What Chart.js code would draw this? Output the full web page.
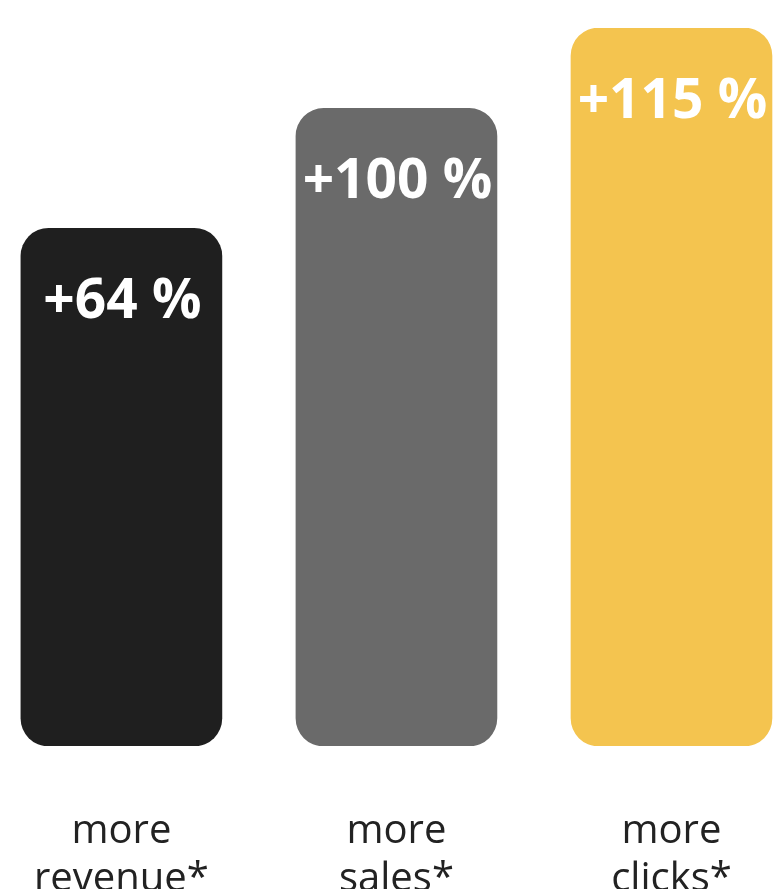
<!DOCTYPE html>
<html lang="en">
<head>
    <meta charset="UTF-8">
    <title>Growth</title>
    <script src="https://cdn.jsdelivr.net/npm/chart.js"></script>
    <style>
        html, body { margin: 0; padding: 0; background: #fff; overflow: hidden; }
        /* the category slots are wider than the page, so the chart runs past both edges */
        #wrap { position: relative; left: -20px; width: 829px; height: 958px; }
    </style>
</head>
<body>
    <div id="wrap"><canvas id="growth-chart"></canvas></div>

    <script>
        const categories = [['more', 'revenue*'], ['more', 'sales*'], ['more', 'clicks*']];
        // percentage shown on each bar
        const increases = [64, 100, 115];
        // bar length as drawn (relative units, tallest = 100)
        const barLengths = [72.1, 88.8, 100];
        const barColors = ['#1f1f1f', '#6a6a6a', '#f4c44f'];

        // white value text near the top of each bar
        const valueLabels = {
            id: 'valueLabels',
            afterDatasetsDraw(chart) {
                const ctx = chart.ctx;
                const meta = chart.getDatasetMeta(0);
                ctx.save();
                ctx.fillStyle = '#ffffff';
                ctx.font = 'bold 55px "Open Sans"';
                ctx.textAlign = 'center';
                ctx.textBaseline = 'alphabetic';
                meta.data.forEach((bar, i) => {
                    ctx.fillText('+' + increases[i] + ' %', bar.x + 1, bar.y + 90);
                });
                ctx.restore();
            }
        };

        const ctx = document.getElementById('growth-chart').getContext('2d');
        new Chart(ctx, {
            type: 'bar',
            data: {
                labels: categories,
                datasets: [{
                    data: barLengths,
                    backgroundColor: barColors,
                    borderRadius: 28,
                    borderSkipped: false,
                    barThickness: 201
                }]
            },
            options: {
                responsive: true,
                maintainAspectRatio: false,
                animation: false,
                layout: {
                    padding: { left: 0, right: 0, top: 28, bottom: 0 }
                },
                plugins: {
                    legend: { display: false },
                    tooltip: { enabled: false }
                },
                scales: {
                    x: {
                        offset: true,
                        grid: { display: false },
                        border: { display: false },
                        ticks: {
                            color: '#222222',
                            font: { family: 'Open Sans', size: 40, lineHeight: 1.2 },
                            padding: 54,
                            maxRotation: 0,
                            autoSkip: false
                        }
                    },
                    y: {
                        display: false,
                        min: 0,
                        max: 100
                    }
                }
            },
            plugins: [valueLabels]
        });
    </script>
</body>
</html>
